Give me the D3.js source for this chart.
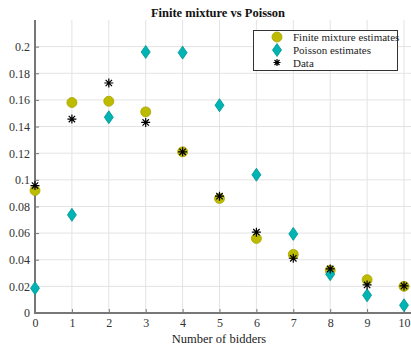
<!DOCTYPE html>
<html><head><meta charset="utf-8">
<script src="https://cdn.jsdelivr.net/npm/d3@7/dist/d3.min.js"></script>
<style>body{margin:0;background:#fff}svg{display:block}</style>
</head><body><svg id="c" width="411" height="345"></svg>
<script>
const bidders = [0,1,2,3,4,5,6,7,8,9,10];
const finiteMixture = [0.092,0.158,0.159,0.151,0.121,0.086,0.056,0.044,0.032,0.025,0.020];
const poisson = [0.0186,0.0737,0.147,0.196,0.1955,0.156,0.1038,0.0594,0.0291,0.0133,0.0058];
const dataObs = [0.0957,0.1456,0.1727,0.1431,0.121,0.0877,0.0607,0.0411,0.0331,0.0211,0.0203];
const yTicks = [0,0.02,0.04,0.06,0.08,0.1,0.12,0.14,0.16,0.18,0.2];
const xTicks = [0,1,2,3,4,5,6,7,8,9,10];
const legendLabels = ["Finite mixture estimates","Poisson estimates","Data"];

const svg = d3.select("#c");
const L=35, R=411, T=20, B=313;
const x = d3.scaleLinear().domain([0,10]).range([L,404]);
const y = d3.scaleLinear().domain([0,0.22]).range([B,T]);
const font = "'Liberation Serif','Times New Roman',serif";

// grid
const g = svg.append("g");
g.selectAll(".vg").data(xTicks).join("line").attr("x1",d=>x(d)).attr("x2",d=>x(d)).attr("y1",T).attr("y2",B)
  .attr("stroke","#e3e3e3").attr("stroke-width",1);
g.selectAll(".hg").data(yTicks).join("line").attr("y1",d=>y(d)).attr("y2",d=>y(d)).attr("x1",L).attr("x2",R)
  .attr("stroke","#e3e3e3").attr("stroke-width",1);

// axes
const xAxis = d3.axisBottom(x).tickValues(xTicks).tickFormat(d3.format("d")).tickSizeInner(-4).tickSizeOuter(0).tickPadding(5);
const yAxis = d3.axisLeft(y).tickValues(yTicks).tickFormat(d=>d===0?"0":String(+d.toFixed(2))).tickSizeInner(-4).tickSizeOuter(0).tickPadding(5);
const gx = svg.append("g").attr("transform",`translate(0,${B})`).call(xAxis);
const gy = svg.append("g").attr("transform",`translate(${L},0)`).call(yAxis);
[gx,gy].forEach(a=>{
  a.select(".domain").remove();
  a.selectAll(".tick line").attr("stroke","#777").attr("stroke-width",1);
  a.selectAll("text").attr("font-family",font).attr("font-size",12).attr("fill","#333");
});
svg.append("line").attr("x1",L).attr("x2",R).attr("y1",B).attr("y2",B).attr("stroke","#777").attr("stroke-width",2);
svg.append("line").attr("x1",L).attr("x2",L).attr("y1",T).attr("y2",B+1).attr("stroke","#777").attr("stroke-width",2);

// title & label
svg.append("text").attr("x",218).attr("y",17).attr("text-anchor","middle").attr("font-family",font)
  .attr("font-weight","bold").attr("font-size",12.5).attr("fill","#111").text("Finite mixture vs Poisson");
svg.append("text").attr("x",219).attr("y",343).attr("text-anchor","middle").attr("font-family",font)
  .attr("font-size",12.5).attr("fill","#222").text("Number of bidders");

// markers
const yellow="#bdbb00", yellowE="#a8a500", teal="#00b4b4", tealE="#009494";
function circle(sel,cx,cy){sel.append("circle").attr("cx",cx).attr("cy",cy).attr("r",5).attr("fill",yellow).attr("stroke",yellowE).attr("stroke-width",0.8);}
function diamond(sel,cx,cy){sel.append("path").attr("d",`M${cx},${cy-6.5}L${cx+4.5},${cy}L${cx},${cy+6.5}L${cx-4.5},${cy}Z`).attr("fill",teal).attr("stroke",tealE).attr("stroke-width",0.8);}
function star(sel,cx,cy,s=4.5){const d=s*0.71;
  sel.append("path").attr("d",`M${cx-s},${cy}H${cx+s}M${cx},${cy-s}V${cy+s}M${cx-d},${cy-d}L${cx+d},${cy+d}M${cx-d},${cy+d}L${cx+d},${cy-d}`)
  .attr("stroke","#000").attr("stroke-width",1.2).attr("fill","none");}
const m = svg.append("g");
bidders.forEach((b,i)=>circle(m,x(b),y(finiteMixture[i])));
bidders.forEach((b,i)=>diamond(m,x(b),y(poisson[i])));
bidders.forEach((b,i)=>star(m,x(b),y(dataObs[i])));

// legend
const lg = svg.append("g");
lg.append("rect").attr("x",253.5).attr("y",30.5).attr("width",144).attr("height",40).attr("fill","#fff").attr("stroke","#333").attr("stroke-width",1);
const ly=[37,50,62.5];
circle(lg,277,ly[0]); diamond(lg,277,ly[1]); star(lg,277,ly[2],3.5);
legendLabels.forEach((t,i)=>lg.append("text").attr("x",293).attr("y",ly[i]+4).attr("font-family",font).attr("font-size",11).attr("fill","#222").text(t));
</script></body></html>
